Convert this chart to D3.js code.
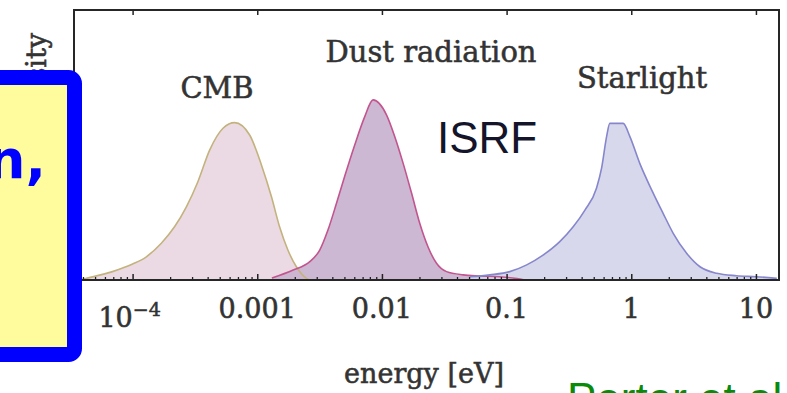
<!DOCTYPE html>
<html>
<head>
<meta charset="utf-8">
<script src="https://cdn.jsdelivr.net/npm/d3@7/dist/d3.min.js"></script>
<style>
  html, body { margin: 0; padding: 0; background: #fff; }
  svg { display: block; }
</style>
</head>
<body>
<svg id="chart" width="787" height="393"></svg>
<script>
// ---- data (energy in eV, energy density in arbitrary units) ----
const seriesNames = ["CMB", "Dust radiation", "Starlight"];

const cmbEnergy = [3.4e-5, 4.0e-5, 4.25e-5, 6.9e-5, 1.0e-4, 1.29e-4, 1.70e-4, 2.17e-4, 2.70e-4, 3.34e-4,
  4.15e-4, 5.31e-4, 6.59e-4, 8.69e-4, 1.08e-3, 1.30e-3, 1.51e-3, 1.76e-3, 2.06e-3, 2.48e-3, 2.64e-3];
const cmbDensity = [0.001, 0.003, 0.006, 0.031, 0.059, 0.086, 0.136, 0.197, 0.271, 0.364,
  0.481, 0.562, 0.583, 0.537, 0.426, 0.308, 0.197, 0.111, 0.049, 0.006, 0.0];

const dustEnergy = [1.31e-3, 1.94e-3, 2.64e-3, 3.17e-3, 3.69e-3, 4.32e-3, 5.02e-3, 6.05e-3, 7.28e-3, 8.49e-3,
  1.09e-2, 1.27e-2, 1.48e-2, 1.73e-2, 2.01e-2, 2.34e-2, 2.74e-2, 3.30e-2, 4.48e-2, 6.10e-2, 8.81e-2, 0.121, 0.140];
const dustDensity = [0.007, 0.037, 0.068, 0.111, 0.185, 0.284, 0.383, 0.500, 0.605, 0.667,
  0.611, 0.530, 0.432, 0.321, 0.210, 0.123, 0.062, 0.031, 0.019, 0.015, 0.012, 0.005, 0.0];

const starEnergy = [0.0507, 0.0733, 0.106, 0.145, 0.196, 0.267, 0.342, 0.425, 0.526, 0.578, 0.634, 0.673,
  0.861, 0.975, 1.17, 1.46, 1.80, 2.17, 2.78, 3.56, 4.84, 7.00, 10.1, 14.7];
const starDensity = [0.012, 0.019, 0.031, 0.056, 0.092, 0.142, 0.197, 0.259, 0.340, 0.414, 0.531, 0.580,
  0.580, 0.531, 0.432, 0.333, 0.247, 0.173, 0.099, 0.049, 0.025, 0.016, 0.012, 0.006];

const majorTicks = [1e-4, 1e-3, 1e-2, 1e-1, 1, 10];
const majorTickLabels = ["10^-4", "0.001", "0.01", "0.1", "1", "10"];
const xLabel = "energy [eV]";
const yLabel = "energy density";

// ---- layout ----
const svg = d3.select("#chart");
const L = 74, R = 779, T = 10, B = 280;

const x = d3.scaleLog().domain([Math.pow(10, -4.47), Math.pow(10, 1.185)]).range([L, R]);
const y = d3.scaleLinear().domain([0, 1]).range([B, T]);

svg.append("defs").append("clipPath").attr("id", "plotclip")
  .append("rect").attr("x", L).attr("y", T).attr("width", R - L).attr("height", B - T);

const styles = [
  { fill: "#e9d7e2", stroke: "#c4b27e" },
  { fill: "#c9b2cf", stroke: "#c2558f" },
  { fill: "#d5d5ea", stroke: "#8686cc" }
];
const seriesData = [
  cmbEnergy.map((e, i) => [e, cmbDensity[i]]),
  dustEnergy.map((e, i) => [e, dustDensity[i]]),
  starEnergy.map((e, i) => [e, starDensity[i]])
];

const gPlot = svg.append("g").attr("clip-path", "url(#plotclip)");
const area = d3.area().x(d => x(d[0])).y0(y(0)).y1(d => y(d[1])).curve(d3.curveMonotoneX);
const line = d3.line().x(d => x(d[0])).y(d => y(d[1])).curve(d3.curveMonotoneX);

seriesData.forEach((s, i) => {
  gPlot.append("path").datum(s).attr("d", area)
    .attr("fill", styles[i].fill).attr("fill-opacity", 0.92);
});
seriesData.forEach((s, i) => {
  gPlot.append("path").datum(s).attr("d", line)
    .attr("fill", "none").attr("stroke", styles[i].stroke).attr("stroke-width", 1.6);
});

// minor ticks
const minorTicks = [];
for (let p = -5; p <= 1; p++) {
  for (let m = 2; m <= 9; m++) {
    const v = m * Math.pow(10, p);
    if (v > x.domain()[0] && v < x.domain()[1]) minorTicks.push(v);
  }
}

// bottom axis (ticks inward)
const gB = svg.append("g").attr("transform", `translate(0,${B})`);
gB.call(d3.axisBottom(x).tickValues(majorTicks).tickSizeInner(-6).tickSizeOuter(0).tickFormat(""));
gB.select(".domain").remove();
gB.selectAll(".tick line").attr("stroke", "#222").attr("stroke-width", 1.5);
const gBm = svg.append("g").attr("transform", `translate(0,${B})`);
gBm.call(d3.axisBottom(x).tickValues(minorTicks).tickSizeInner(-3).tickSizeOuter(0).tickFormat(""));
gBm.select(".domain").remove();
gBm.selectAll(".tick line").attr("stroke", "#222").attr("stroke-width", 1.3);

// top axis (majors only, inward)
const gT = svg.append("g").attr("transform", `translate(0,${T})`);
gT.call(d3.axisTop(x).tickValues(majorTicks).tickSizeInner(-5).tickSizeOuter(0).tickFormat(""));
gT.select(".domain").remove();
gT.selectAll(".tick line").attr("stroke", "#222").attr("stroke-width", 1.5);

// frame
svg.append("rect").attr("x", L).attr("y", T).attr("width", R - L).attr("height", B - T)
  .attr("fill", "none").attr("stroke", "#262626").attr("stroke-width", 2);

// heavier serif text like the reference
const serif = "DejaVu Serif, Liberation Serif, serif";
function heavy(sel, col) {
  return sel.attr("fill", col).attr("stroke", col).attr("stroke-width", 0.55).attr("paint-order", "stroke");
}

// tick labels
majorTicks.forEach((v, i) => {
  const lab = majorTickLabels[i];
  const t = svg.append("text").attr("x", x(v)).attr("text-anchor", "middle")
    .attr("font-family", serif).attr("font-size", 27);
  heavy(t, "#333");
  if (lab.indexOf("^") >= 0) {
    const parts = lab.split("^");
    t.attr("y", 327).attr("x", x(v) - 3);
    t.append("tspan").text(parts[0]);
    t.append("tspan").attr("dy", -11).attr("font-size", 19).text(parts[1].replace("-", "\u2212"));
  } else {
    t.attr("y", 318).text(lab);
  }
});

// axis labels
heavy(svg.append("text").attr("x", 424).attr("y", 383).attr("text-anchor", "middle")
  .attr("font-family", serif).attr("font-size", 27).text(xLabel), "#333");
heavy(svg.append("text").attr("transform", "translate(46,33) rotate(-90)").attr("text-anchor", "end")
  .attr("font-family", serif).attr("font-size", 27).text(yLabel), "#333");

// series labels
const labelPos = [[217, 98], [431, 62], [642, 88]];
seriesNames.forEach((n, i) => {
  heavy(svg.append("text").attr("x", labelPos[i][0]).attr("y", labelPos[i][1]).attr("text-anchor", "middle")
    .attr("font-family", serif).attr("font-size", 29).text(n), "#333");
});

// ISRF annotation
svg.append("text").attr("x", 437).attr("y", 153)
  .attr("font-family", "Liberation Sans, Arial, sans-serif").attr("font-size", 44)
  .attr("fill", "#14142a").text("ISRF");

// citation
svg.append("text").attr("x", 567).attr("y", 414)
  .attr("font-family", "Liberation Sans, Arial, sans-serif").attr("font-size", 44)
  .attr("fill", "#0a8a0a").text("Porter et al.");

// overlay box from slide
svg.append("rect").attr("x", -20).attr("y", 77.5).attr("width", 94.5).attr("height", 277)
  .attr("rx", 6).attr("ry", 6)
  .attr("fill", "#fffc9e").attr("stroke", "#0000ff").attr("stroke-width", 15);
svg.append("text").attr("x", 46).attr("y", 178).attr("text-anchor", "end")
  .attr("font-family", "DejaVu Sans, sans-serif").attr("font-weight", "bold").attr("font-size", 54)
  .attr("fill", "#0000ff").text("n,");
</script>
</body>
</html>
